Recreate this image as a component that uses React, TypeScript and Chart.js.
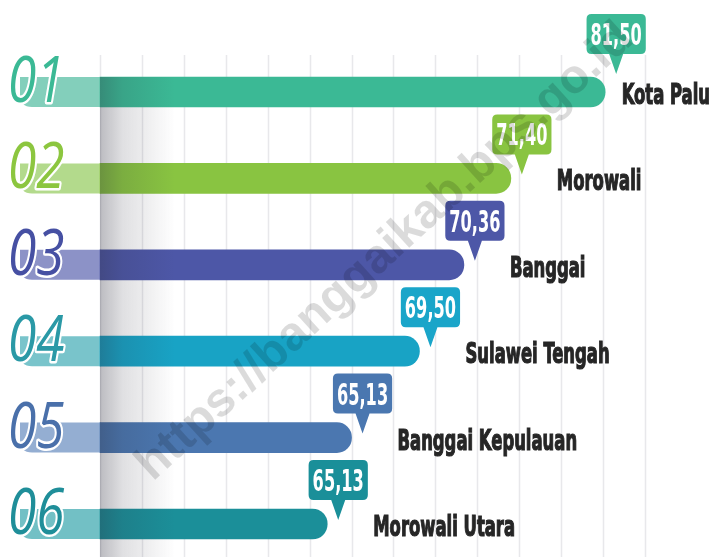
import React, { useEffect, useRef } from "react";
import { Chart, registerables } from "chart.js";

Chart.register(...registerables);

const ranks = ["01", "02", "03", "04", "05", "06"];
const regions = ["Kota Palu", "Morowali", "Banggai", "Sulawei Tengah", "Banggai Kepulauan", "Morowali Utara"];
const values = [81.5, 71.4, 70.36, 69.5, 65.13, 65.13];
// bar extents as drawn in the infographic, read in gridline units (the picture is not to scale with the values)
const barExtent = [12.05, 9.8, 8.68, 7.62, 6.0, 5.42];
const gridMax = 13;

const barColors = ["#3bb995", "#89c441", "#4d57a7", "#18a3c5", "#4b77b0", "#1b8f99"];
const tabColors = ["#83cfbb", "#b3da8c", "#8c92c7", "#79c4cb", "#94aed2", "#72c0c5"];
const numeralColors = ["#3bb995", "#8cc63f", "#4650a3", "#2a99a6", "#4a70aa", "#1f8e99"];
const calloutColors = ["#3bb995", "#89c441", "#4d57a7", "#1aa5c9", "#4a77b0", "#1a8f99"];

const valueLabels = values.map((v) => v.toFixed(2).replace(".", ","));

const NARROW = "'DejaVu Sans Condensed', 'Liberation Sans Narrow', sans-serif";

const decoPlugin = {
  id: "deco",
  beforeDatasetsDraw(chart: any) {
    const { ctx, scales } = chart;
    const x = scales.x;
    const H = chart.height;
    ctx.save();
    ctx.strokeStyle = "#e8e8eb";
    ctx.lineWidth = 1.5;
    for (let t = 0; t <= gridMax; t++) {
      const px = Math.round(x.getPixelForValue(t)) + 0.5;
      ctx.beginPath();
      ctx.moveTo(px, 55);
      ctx.lineTo(px, H);
      ctx.stroke();
    }
    const meta = chart.getDatasetMeta(0);
    meta.data.forEach((bar: any, i: number) => {
      const top = bar.y - bar.height / 2;
      const bottom = bar.y + bar.height / 2;
      const left = 20;
      const right = bar.base + 1;
      const r = 12;
      ctx.beginPath();
      ctx.moveTo(left, top);
      ctx.lineTo(right, top);
      ctx.lineTo(right, bottom);
      ctx.lineTo(left + r, bottom);
      ctx.quadraticCurveTo(left, bottom, left, bottom - r);
      ctx.closePath();
      ctx.fillStyle = tabColors[i];
      ctx.fill();
    });
    ctx.restore();
  },
  afterDatasetsDraw(chart: any) {
    const { ctx, scales } = chart;
    const x = scales.x;
    const W = chart.width;
    const H = chart.height;
    const meta = chart.getDatasetMeta(0);

    // soft shadow band at the start of the bars
    ctx.save();
    const x0 = x.getPixelForValue(0);
    const g = ctx.createLinearGradient(x0, 0, x0 + 75, 0);
    g.addColorStop(0, "rgba(45,45,60,0.32)");
    g.addColorStop(0.3, "rgba(45,45,60,0.15)");
    g.addColorStop(1, "rgba(45,45,60,0)");
    ctx.fillStyle = g;
    const firstTop = meta.data[0].y - meta.data[0].height / 2;
    ctx.fillRect(x0, firstTop, 75, H - firstTop);
    ctx.restore();

    meta.data.forEach((bar: any, i: number) => {
      const top = bar.y - bar.height / 2;
      const bottom = bar.y + bar.height / 2;

      // rank numeral
      ctx.save();
      ctx.translate(8, bottom - 5);
      ctx.scale(0.8, 1);
      ctx.font = "italic 400 64px 'Open Sans', 'DejaVu Sans', sans-serif";
      ctx.textAlign = "left";
      ctx.textBaseline = "alphabetic";
      ctx.lineJoin = "round";
      ctx.strokeStyle = "#ffffff";
      ctx.lineWidth = 5;
      ctx.strokeText(ranks[i], 0, 0);
      ctx.fillStyle = numeralColors[i];
      ctx.fillText(ranks[i], 0, 0);
      ctx.restore();

      // callout
      const label = valueLabels[i];
      ctx.save();
      ctx.font = "bold 30px " + NARROW;
      const sx = 0.6;
      const tw = ctx.measureText(label).width * sx;
      const lift = i === 0 ? 14 : 0;
      const tipX = bar.x + 11;
      const tipY = top + 11 - lift;
      const boxB = tipY - 20;
      const boxT = boxB - 40;
      const bw = tw + 8;
      const bx = tipX - bw / 2;
      const rr = 5;
      ctx.beginPath();
      ctx.moveTo(bx + rr, boxT);
      ctx.lineTo(bx + bw - rr, boxT);
      ctx.quadraticCurveTo(bx + bw, boxT, bx + bw, boxT + rr);
      ctx.lineTo(bx + bw, boxB - rr);
      ctx.quadraticCurveTo(bx + bw, boxB, bx + bw - rr, boxB);
      ctx.lineTo(tipX + 7, boxB);
      ctx.lineTo(tipX, tipY);
      ctx.lineTo(tipX - 7, boxB);
      ctx.lineTo(bx + rr, boxB);
      ctx.quadraticCurveTo(bx, boxB, bx, boxB - rr);
      ctx.lineTo(bx, boxT + rr);
      ctx.quadraticCurveTo(bx, boxT, bx + rr, boxT);
      ctx.closePath();
      ctx.fillStyle = calloutColors[i];
      ctx.fill();
      ctx.translate(tipX, boxT + 31);
      ctx.scale(sx, 1);
      ctx.fillStyle = "#ffffff";
      ctx.textAlign = "center";
      ctx.textBaseline = "alphabetic";
      ctx.fillText(label, 0, 0);
      ctx.restore();

      // region name
      ctx.save();
      ctx.font = "bold 29px " + NARROW;
      const lsx = 0.63;
      const w = ctx.measureText(regions[i]).width * lsx;
      let lx = tipX + 35;
      if (lx + w > W - 4) lx = W - 4 - w;
      ctx.translate(lx, bottom - 3);
      ctx.scale(lsx, 1);
      ctx.fillStyle = "#262626";
      ctx.strokeStyle = "#262626";
      ctx.lineWidth = 1.2;
      ctx.textAlign = "left";
      ctx.textBaseline = "alphabetic";
      ctx.fillText(regions[i], 0, 0);
      ctx.strokeText(regions[i], 0, 0);
      ctx.restore();
    });

    // watermark
    ctx.save();
    ctx.translate(385, 252);
    ctx.rotate(-0.74);
    ctx.font = "bold 48px 'Liberation Sans', Arial, sans-serif";
    ctx.fillStyle = "rgba(0,0,0,0.14)";
    ctx.textAlign = "center";
    ctx.textBaseline = "middle";
    ctx.fillText("https://banggaikab.bps.go.id", 0, 0);
    ctx.restore();
  },
};

export default function App() {
  const canvasRef = useRef<HTMLCanvasElement | null>(null);

  useEffect(() => {
    const canvas = canvasRef.current;
    if (!canvas) return;
    const chart = new Chart(canvas, {
      type: "bar",
      data: {
        labels: regions,
        datasets: [
          {
            data: barExtent,
            backgroundColor: barColors,
            barThickness: 30,
            borderRadius: 15,
            borderSkipped: "start",
            clip: false,
          } as any,
        ],
      },
      options: {
        indexAxis: "y",
        animation: false,
        responsive: false,
        maintainAspectRatio: false,
        events: [],
        layout: { padding: { left: 100, right: 69, top: 92, bottom: 33 } },
        plugins: { legend: { display: false }, tooltip: { enabled: false } },
        scales: {
          x: { type: "linear", min: 0, max: gridMax, display: false },
          y: { type: "category", offset: false, display: false },
        },
      } as any,
      plugins: [decoPlugin],
    });
    return () => chart.destroy();
  }, []);

  return (
    <div style={{ position: "fixed", left: 0, top: 0, width: 714, height: 557, background: "#ffffff" }}>
      <canvas ref={canvasRef} width={714} height={557} style={{ display: "block", width: 714, height: 557 }} />
    </div>
  );
}
